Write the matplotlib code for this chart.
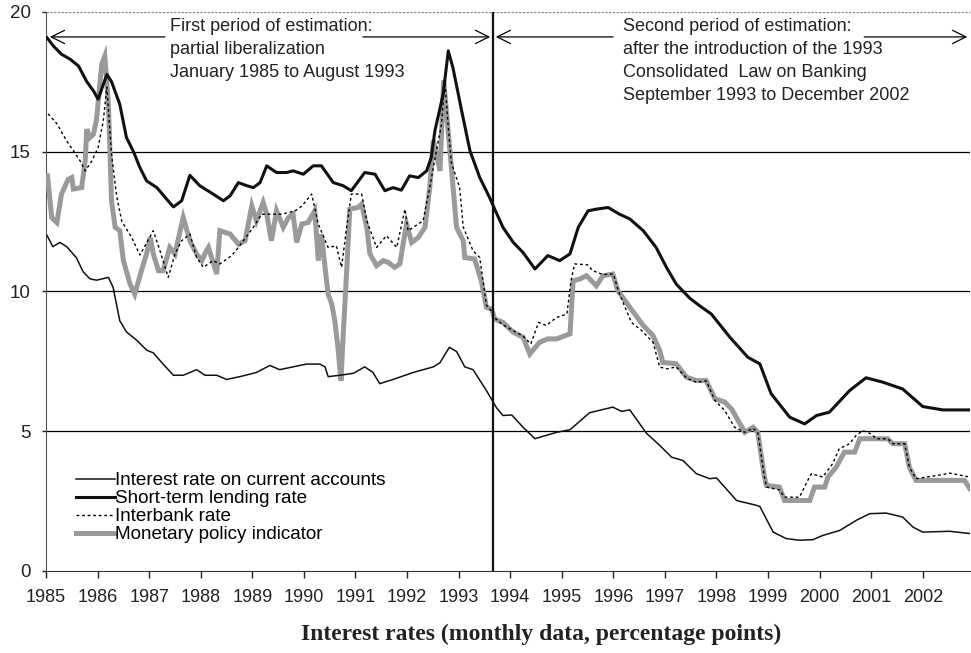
import matplotlib
matplotlib.use("Agg")
import matplotlib.pyplot as plt

plt.rcParams["font.family"] = ["Liberation Sans", "DejaVu Sans"]

# monthly rates read as (decimal year, percent) breakpoints
cur_t = [1985.02, 1985.13, 1985.27, 1985.40, 1985.59, 1985.72, 1985.85, 1985.98, 1986.21, 1986.30,
         1986.43, 1986.56, 1986.76, 1986.95, 1987.08, 1987.27, 1987.47, 1987.66, 1987.92, 1988.08,
         1988.31, 1988.50, 1988.76, 1989.08, 1989.34, 1989.53, 1990.05, 1990.31, 1990.41, 1990.47,
         1990.70, 1990.96, 1991.18, 1991.34, 1991.47, 1991.73, 1992.12, 1992.51, 1992.64, 1992.82,
         1992.96, 1993.12, 1993.28, 1993.54, 1993.73, 1993.86, 1994.03, 1994.25, 1994.48, 1994.90,
         1995.16, 1995.54, 1995.99, 1996.16, 1996.32, 1996.64, 1996.90, 1997.13, 1997.35, 1997.61,
         1997.87, 1998.00, 1998.39, 1998.77, 1998.84, 1999.10, 1999.35, 1999.61, 1999.87, 2000.06,
         2000.39, 2000.71, 2000.97, 2001.29, 2001.61, 2001.81, 2002.00, 2002.52, 2002.91]
cur_v = [12.0, 11.6, 11.75, 11.6, 11.2, 10.7, 10.45, 10.4, 10.5, 10.15,
         8.95, 8.55, 8.25, 7.9, 7.8, 7.4, 7.0, 7.0, 7.2, 7.0,
         7.0, 6.85, 6.95, 7.1, 7.35, 7.2, 7.4, 7.4, 7.3, 6.95,
         7.0, 7.07, 7.3, 7.1, 6.7, 6.85, 7.1, 7.3, 7.45, 8.0,
         7.85, 7.3, 7.2, 6.45, 5.85, 5.56, 5.58, 5.14, 4.73, 4.96,
         5.05, 5.66, 5.86, 5.71, 5.76, 4.93, 4.49, 4.07, 3.95, 3.48,
         3.3, 3.33, 2.52, 2.35, 2.31, 1.39, 1.16, 1.10, 1.12, 1.27,
         1.45, 1.81, 2.05, 2.07, 1.93, 1.57, 1.39, 1.42, 1.34]

lend_t = [1985.02, 1985.14, 1985.30, 1985.47, 1985.63, 1985.79, 1985.92, 1986.01, 1986.18, 1986.27,
          1986.43, 1986.56, 1986.69, 1986.82, 1986.95, 1987.15, 1987.31, 1987.47, 1987.63, 1987.79,
          1987.98, 1988.24, 1988.44, 1988.57, 1988.73, 1988.89, 1989.02, 1989.15, 1989.28, 1989.47,
          1989.66, 1989.79, 1989.99, 1990.18, 1990.34, 1990.57, 1990.76, 1990.92, 1991.18, 1991.38,
          1991.57, 1991.73, 1991.89, 1992.05, 1992.22, 1992.38, 1992.47, 1992.54, 1992.70, 1992.80,
          1992.89, 1993.06, 1993.22, 1993.41, 1993.60, 1993.70, 1993.86, 1994.06, 1994.25, 1994.48,
          1994.73, 1994.96, 1995.16, 1995.32, 1995.51, 1995.67, 1995.90, 1996.12, 1996.32, 1996.58,
          1996.83, 1997.03, 1997.22, 1997.48, 1997.67, 1997.90, 1998.26, 1998.61, 1998.84, 1999.06,
          1999.42, 1999.71, 1999.94, 2000.19, 2000.58, 2000.90, 2001.23, 2001.61, 2002.00, 2002.39,
          2002.91]
lend_v = [19.07, 18.78, 18.48, 18.3, 18.06, 17.5, 17.17, 16.87, 17.76, 17.5,
          16.69, 15.5, 15.02, 14.43, 13.95, 13.71, 13.36, 13.02, 13.24, 14.15,
          13.78, 13.48, 13.24, 13.42, 13.89, 13.78, 13.71, 13.89, 14.49, 14.25,
          14.25, 14.31, 14.19, 14.49, 14.49, 13.89, 13.78, 13.6, 14.25, 14.19,
          13.6, 13.71, 13.62, 14.13, 14.07, 14.31, 14.79, 15.74, 17.05, 18.6,
          18.0, 16.45, 15.03, 14.07, 13.36, 12.94, 12.29, 11.75, 11.39, 10.8,
          11.28, 11.1, 11.34, 12.29, 12.88, 12.94, 13.0, 12.76, 12.59, 12.17,
          11.57, 10.86, 10.26, 9.76, 9.49, 9.19, 8.36, 7.64, 7.41, 6.34,
          5.5, 5.26, 5.56, 5.68, 6.45, 6.91, 6.75, 6.51, 5.88, 5.76,
          5.76]

ib_t = [1985.04, 1985.21, 1985.40, 1985.53, 1985.66, 1985.76, 1985.89, 1986.01, 1986.11, 1986.18,
        1986.27, 1986.37, 1986.47, 1986.66, 1986.82, 1987.08, 1987.21, 1987.37, 1987.50, 1987.63,
        1987.79, 1987.92, 1988.05, 1988.24, 1988.37, 1988.60, 1988.73, 1989.02, 1989.18, 1989.57,
        1989.83, 1989.96, 1990.15, 1990.28, 1990.47, 1990.63, 1990.73, 1990.83, 1990.92, 1991.12,
        1991.22, 1991.41, 1991.60, 1991.80, 1991.96, 1992.02, 1992.31, 1992.44, 1992.57, 1992.67,
        1992.73, 1992.80, 1992.86, 1993.02, 1993.09, 1993.28, 1993.41, 1993.54, 1993.64, 1993.70,
        1993.86, 1994.06, 1994.25, 1994.40, 1994.55, 1994.70, 1994.90, 1995.10, 1995.18, 1995.25,
        1995.50, 1995.60, 1995.80, 1996.00, 1996.10, 1996.35, 1996.55, 1996.77, 1996.90, 1997.05,
        1997.22, 1997.42, 1997.61, 1997.80, 1997.97, 1998.16, 1998.35, 1998.55, 1998.71, 1998.80,
        1998.93, 1998.97, 1999.22, 1999.32, 1999.61, 1999.77, 1999.84, 2000.06, 2000.25, 2000.38,
        2000.58, 2000.71, 2000.84, 2001.00, 2001.10, 2001.32, 2001.42, 2001.65, 2001.74, 2001.87,
        2002.39, 2002.52, 2002.91]
ib_v = [16.35, 16.0, 15.38, 15.03, 14.67, 14.31, 14.67, 15.14, 16.1, 17.3,
        14.9, 13.4, 12.5, 11.93, 11.3, 12.17, 11.45, 10.5, 11.34, 11.81,
        12.05, 11.21, 10.86, 11.1, 10.98, 11.28, 11.57, 12.29, 12.76, 12.76,
        12.88, 13.05, 13.48, 12.4, 11.57, 11.63, 10.86, 12.3, 13.48, 13.48,
        12.52, 11.57, 11.99, 11.57, 12.94, 12.17, 12.52, 13.71, 15.03, 15.98,
        17.64, 15.86, 14.6, 13.71, 12.3, 11.45, 11.21, 9.5, 9.3, 9.05,
        8.8, 8.6, 8.4, 8.12, 8.89, 8.78, 9.07, 9.19, 10.38, 10.98,
        10.95, 10.74, 10.6, 10.62, 10.0, 8.89, 8.6, 8.18, 7.29, 7.23,
        7.3, 6.9, 6.75, 6.8, 6.1, 5.74, 5.14, 4.96, 5.1, 4.96,
        3.36, 3.0, 2.9, 2.64, 2.64, 3.24, 3.48, 3.36, 3.83, 4.37,
        4.55, 4.85, 5.02, 4.9, 4.73, 4.73, 4.55, 4.55, 3.71, 3.3,
        3.45, 3.5, 3.36]

mpi_t = [1985.03, 1985.11, 1985.21, 1985.30, 1985.43, 1985.50, 1985.53, 1985.69, 1985.76, 1985.79,
         1985.85, 1985.92, 1985.98, 1986.08, 1986.14, 1986.21, 1986.27, 1986.34, 1986.43, 1986.50,
         1986.63, 1986.72, 1986.85, 1986.95, 1987.02, 1987.08, 1987.18, 1987.27, 1987.40, 1987.50,
         1987.66, 1987.79, 1987.92, 1988.02, 1988.11, 1988.15, 1988.31, 1988.37, 1988.57, 1988.73,
         1988.86, 1988.99, 1989.08, 1989.21, 1989.28, 1989.37, 1989.47, 1989.60, 1989.70, 1989.79,
         1989.86, 1989.96, 1990.08, 1990.21, 1990.28, 1990.34, 1990.41, 1990.47, 1990.54, 1990.60,
         1990.66, 1990.72, 1990.76, 1990.83, 1990.89, 1991.05, 1991.12, 1991.22, 1991.28, 1991.41,
         1991.54, 1991.63, 1991.76, 1991.86, 1991.99, 1992.09, 1992.22, 1992.35, 1992.44, 1992.51,
         1992.64, 1992.71, 1992.86, 1992.96, 1993.09, 1993.12, 1993.31, 1993.44, 1993.54, 1993.64,
         1993.70, 1993.86, 1994.06, 1994.25, 1994.38, 1994.57, 1994.73, 1994.90, 1995.16, 1995.22,
         1995.35, 1995.48, 1995.67, 1995.80, 1995.99, 1996.09, 1996.32, 1996.58, 1996.77, 1996.90,
         1996.96, 1997.22, 1997.42, 1997.61, 1997.80, 1997.97, 1998.16, 1998.29, 1998.42, 1998.55,
         1998.71, 1998.80, 1998.93, 1998.97, 1999.22, 1999.32, 1999.81, 1999.90, 2000.10, 2000.16,
         2000.32, 2000.48, 2000.68, 2000.78, 2001.32, 2001.42, 2001.65, 2001.74, 2001.87, 2002.81,
         2002.91]
mpi_v = [14.13, 12.64, 12.46, 13.48, 14.01, 14.07, 13.66, 13.71, 14.67, 15.8,
         15.5, 15.62, 16.16, 18.12, 18.42, 16.69, 13.24, 12.29, 12.17, 11.1,
         10.26, 9.9, 10.74, 11.34, 11.93, 11.34, 10.74, 10.74, 11.57, 11.34,
         12.64, 11.81, 11.34, 11.1, 11.45, 11.57, 10.62, 12.17, 12.05, 11.69,
         11.81, 13.06, 12.52, 13.18, 12.76, 11.81, 12.88, 12.29, 12.64, 12.76,
         11.75, 12.41, 12.46, 12.88, 11.1, 12.05, 10.86, 9.9, 9.55, 8.95,
         8.0, 6.81, 8.36, 10.74, 12.94, 13.0, 13.12, 12.29, 11.34, 10.92,
         11.1, 11.04, 10.86, 10.98, 12.41, 11.75, 11.93, 12.3, 13.71, 15.4,
         14.31, 17.55, 14.43, 12.29, 11.81, 11.21, 11.16, 10.38, 9.43, 9.37,
         9.01, 8.89, 8.54, 8.36, 7.76, 8.18, 8.3, 8.3, 8.48, 10.38,
         10.44, 10.56, 10.2, 10.56, 10.62, 10.02, 9.43, 8.78, 8.42, 7.88,
         7.46, 7.41, 6.93, 6.81, 6.81, 6.16, 6.04, 5.8, 5.38, 4.96,
         5.14, 4.96, 3.36, 3.06, 3.0, 2.52, 2.52, 3.0, 3.0, 3.36,
         3.71, 4.25, 4.25, 4.73, 4.73, 4.55, 4.55, 3.71, 3.24, 3.24,
         2.95]

years = list(range(1985, 2003))
split_date = 1993 + 8 / 12   # September 1993
x_end = 2002 + 11 / 12       # December 2002

fig = plt.figure(figsize=(9.71, 6.53), dpi=100)
ax = fig.add_axes([0.0474, 0.1256, 0.9516, 0.8564])

ax.plot(mpi_t, mpi_v, color="#9a9a9a", lw=3.6, solid_joinstyle="miter", zorder=3,
        label="Monetary policy indicator")
ax.plot(ib_t, ib_v, color="black", lw=1.0, ls=(0, (2, 2)), zorder=4, label="Interbank rate")
ax.plot(cur_t, cur_v, color="#111111", lw=1.1, zorder=5,
        label="Interest rate on current accounts")
ax.plot(lend_t, lend_v, color="#111111", lw=2.2, zorder=6, label="Short-term lending rate")

for v in [5, 10, 15]:
    ax.axhline(v, color="black", lw=0.9, zorder=1)
ax.axhline(20, color="#888888", lw=0.9, ls=(0, (2, 1)), zorder=1)
ax.axvline(split_date, color="#111111", lw=1.6, zorder=7)

ax.set_xlim(1985, x_end)
ax.set_ylim(0, 20)
ax.set_xticks(years)
ax.set_xticklabels([str(y) for y in years])
ax.set_yticks([0, 5, 10, 15, 20])
ax.tick_params(axis="x", direction="out", length=5, width=1, labelsize=13, pad=8, colors="#222222")
ax.tick_params(axis="y", direction="out", length=3, width=1, labelsize=13.5, pad=8, colors="#222222")
for s in ["top", "right"]:
    ax.spines[s].set_visible(False)
ax.spines["left"].set_color("#555555")
ax.spines["bottom"].set_color("#333333")

# estimation periods: arrows and captions
arr = dict(arrowstyle="->", color="black", lw=0.9, mutation_scale=24)
ay = 19.1
ax.annotate("", xy=(1985.02, ay), xytext=(1987.36, ay), arrowprops=arr)
ax.annotate("", xy=(split_date, ay), xytext=(1991.09, ay), arrowprops=arr)
ax.annotate("", xy=(split_date, ay), xytext=(1996.05, ay), arrowprops=arr)
ax.annotate("", xy=(x_end, ay), xytext=(2000.81, ay), arrowprops=arr)

ax.text(1987.40, 19.78, "First period of estimation:\npartial liberalization\nJanuary 1985 to August 1993",
        fontsize=13, va="top", ha="left", linespacing=1.47, color="#222222")
ax.text(1996.18, 19.78, "Second period of estimation:\nafter the introduction of the 1993\n"
        "Consolidated  Law on Banking\nSeptember 1993 to December 2002",
        fontsize=13, va="top", ha="left", linespacing=1.47, color="#222222")

handles, labels = ax.get_legend_handles_labels()
order = [2, 3, 1, 0]
ax.legend([handles[i] for i in order], [labels[i] for i in order],
          loc="lower left", bbox_to_anchor=(0.024, 0.036), frameon=False, fontsize=13.6,
          handlelength=2.1, handletextpad=0.0, labelspacing=0.04, borderaxespad=0)

fig.text(0.557, 0.028, "Interest rates (monthly data, percentage points)", ha="center", va="center",
         fontsize=17, fontweight="bold", family="Liberation Serif", color="#222222")

fig.savefig("out.png", dpi=100)
